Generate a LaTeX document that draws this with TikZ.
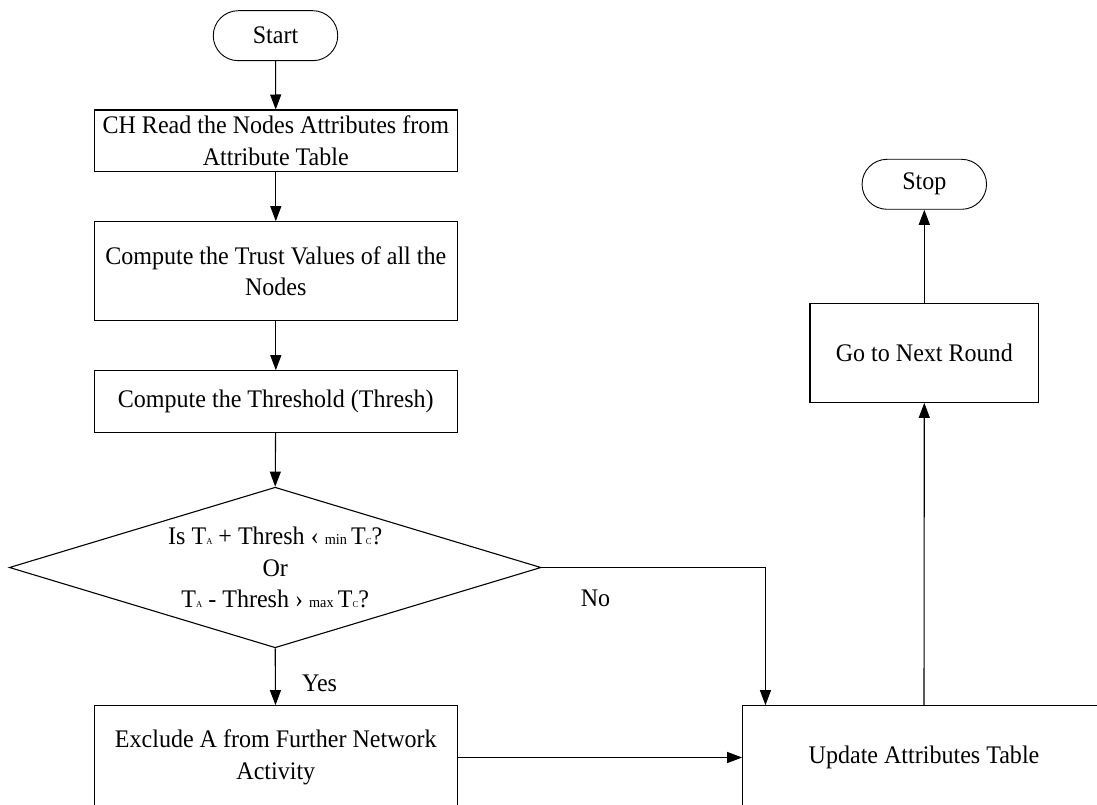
\documentclass[tikz,border=0pt]{standalone}
\usepackage{fontspec}
\setmainfont[FakeStretch=0.95]{Liberation Serif}
\usetikzlibrary{arrows.meta,shapes.geometric,shapes.misc}
\newcommand{\ssA}{\fontsize{9}{9}\selectfont}
\newcommand{\ssB}{\fontsize{15}{15}\selectfont}
\begin{document}
\begin{tikzpicture}[x=1pt,y=-1pt,
  every node/.style={font=\fontsize{25.3}{31.5}\selectfont},
  proc/.style={draw,line width=1.1pt,rectangle,inner sep=0pt,align=center},
  term/.style={draw,line width=0.9pt,rounded rectangle,inner sep=0pt,minimum width=124.5pt,minimum height=50pt},
  decis/.style={draw,line width=1.1pt,diamond,inner sep=0pt,minimum width=531.7pt,minimum height=160.6pt},
  arr/.style={line width=1.1pt,-{Triangle[length=15pt,width=11pt]}},
  lbl/.style={inner sep=0pt}]
\useasboundingbox (0,0) rectangle (1097,805);
\fill[white] (0,0) rectangle (1097,805);
\node[term] (start) at (275.5,35.7) {Start};
\node[proc,minimum width=363pt,minimum height=61.7pt] (b1) at (275.8,140.9) {CH Read the Nodes Attributes from\\Attribute Table};
\node[proc,minimum width=363pt,minimum height=99pt] (b2) at (275.8,271.2) {Compute the Trust Values of all the\\Nodes};
\node[proc,minimum width=363pt,minimum height=61.6pt] (b3) at (275.8,401.5) {Compute the Threshold (Thresh)};
\node[decis] (dec) at (275.2,567.5) {};
\node[lbl,align=center] (dectext) at (275.2,567.5) {Is T{\ssA A} + Thresh \char"2039\ {\ssB min}\,T{\ssA C}?\\Or\\T{\ssA A} - Thresh \char"203A\ {\ssB max}\,T{\ssA C}?};
\node[proc,minimum width=363pt,minimum height=103.6pt] (ex) at (275.8,757.5) {Exclude A from Further Network\\Activity};
\node[proc,minimum width=362.6pt,minimum height=103.6pt] (up) at (924,757.5) {Update Attributes Table};
\node[proc,minimum width=228.6pt,minimum height=99pt] (next) at (924.3,352.8) {Go to Next Round};
\node[term] (stop) at (924.3,184.3) {Stop};
\coordinate (noin) at ([xshift=23.3pt]up.north west);
\draw[arr] (start) -- (b1);
\draw[arr] (b1) -- (b2);
\draw[arr] (b2) -- (b3);
\draw[arr] (b3) -- (dec.north);
\draw[arr] (dec.south) -- (ex);
\node[lbl] (yes) at (319.6,683.3) {Yes};
\draw[arr] (dec.east) -| (noin);
\node[lbl] (no) at (595.5,598.3) {No};
\draw[arr] (ex.east) -- (up.west);
\draw[arr] (up.north) -- (next.south);
\draw[arr] (next.north) -- (stop.south);
\end{tikzpicture}
\end{document}
